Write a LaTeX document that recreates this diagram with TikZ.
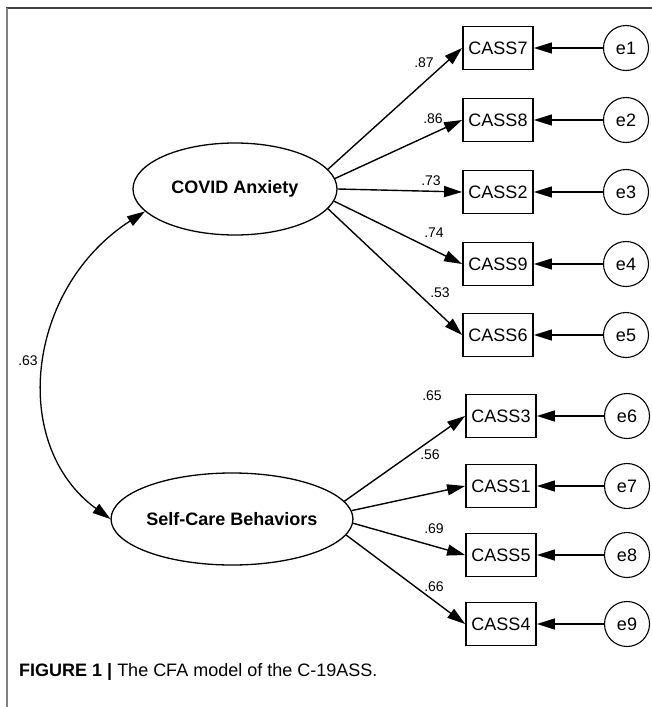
\documentclass[tikz,border=0pt]{standalone}
\usepackage{fontspec}
\setmainfont{Liberation Sans}
\usetikzlibrary{shapes.geometric,arrows.meta}
\begin{document}
\begin{tikzpicture}[x=1pt,y=-1pt,
  obsbox/.style={draw,line width=1.8pt,minimum width=70pt,minimum height=43pt,inner sep=0pt,font=\fontsize{18}{20}\selectfont},
  errc/.style={draw,circle,line width=1.1pt,minimum size=45pt,inner sep=0pt,font=\fontsize{18}{20}\selectfont},
  latent/.style={draw,ellipse,line width=1.3pt,minimum width=204pt,minimum height=92pt,inner sep=0pt,font=\bfseries\fontsize{18}{20}\selectfont},
  lbl/.style={font=\fontsize{14}{16}\selectfont,inner sep=0pt},
  conn/.style={line width=1.4pt,-{Triangle[length=18pt,width=11pt]}},
  errarr/.style={line width=1.4pt,-{Triangle[length=18pt,width=11pt]}}]
\useasboundingbox (0,0) rectangle (652,707);
% frame
\draw[line width=1.2pt,black!75] (6,8) -- (652,8);
\draw[line width=1.6pt,black!50] (7,8) -- (7,707);
% latent variables
\node[latent] (covid) at (235,189) {COVID Anxiety};
\node[latent] (self) at (232,519) {Self-Care Behaviors};
% observed
\node[obsbox] (c7) at (498,48) {CASS7};
\node[obsbox] (c8) at (498,120) {CASS8};
\node[obsbox] (c2) at (498,192) {CASS2};
\node[obsbox] (c9) at (498,264) {CASS9};
\node[obsbox] (c6) at (498,335) {CASS6};
\node[obsbox] (c3) at (501,416) {CASS3};
\node[obsbox] (c1) at (501,486) {CASS1};
\node[obsbox] (c5) at (501,555) {CASS5};
\node[obsbox] (c4) at (501,624) {CASS4};
% errors
\node[errc] (e1) at (626,48) {e1};
\node[errc] (e2) at (626,120) {e2};
\node[errc] (e3) at (626,192) {e3};
\node[errc] (e4) at (626,264) {e4};
\node[errc] (e5) at (626,335) {e5};
\node[errc] (e6) at (627,416) {e6};
\node[errc] (e7) at (627,486) {e7};
\node[errc] (e8) at (627,555) {e8};
\node[errc] (e9) at (627,624) {e9};
% loadings
\foreach \a/\b in {12/c7,6/c8,0/c2,-7/c9,-12/c6} \draw[conn] (covid.\a) -- (\b.west);
\foreach \a/\b in {9/c3,4/c1,-2/c5,-8/c4} \draw[conn] (self.\a) -- (\b.west);
% error arrows
\foreach \e/\b in {e1/c7,e2/c8,e3/c2,e4/c9,e5/c6,e6/c3,e7/c1,e8/c5,e9/c4}
  \draw[errarr] (\e) -- (\b.east);
% covariance
\draw[line width=1.3pt,{Triangle[length=18pt,width=11pt]}-{Triangle[length=18pt,width=11pt]}]
  (covid.194) .. controls (26,288) and (9,445) .. (self.west);
% labels
\node[lbl] (l87) at (424,63) {.87};
\node[lbl] (l86) at (433,119) {.86};
\node[lbl] (l73) at (431,181) {.73};
\node[lbl] (l74) at (434,233) {.74};
\node[lbl] (l53) at (440,293) {.53};
\node[lbl] (l65) at (432,396) {.65};
\node[lbl] (l56) at (430,455) {.56};
\node[lbl] (l69) at (434,529) {.69};
\node[lbl] (l66) at (434,587) {.66};
\node[lbl] (l63) at (28,361) {.63};
% caption
\node[anchor=west,inner sep=0pt,font=\fontsize{18}{20}\selectfont] (cap) at (19,672)
  {\textbf{FIGURE 1 |} The CFA model of the C-19ASS.};
\end{tikzpicture}
\end{document}
